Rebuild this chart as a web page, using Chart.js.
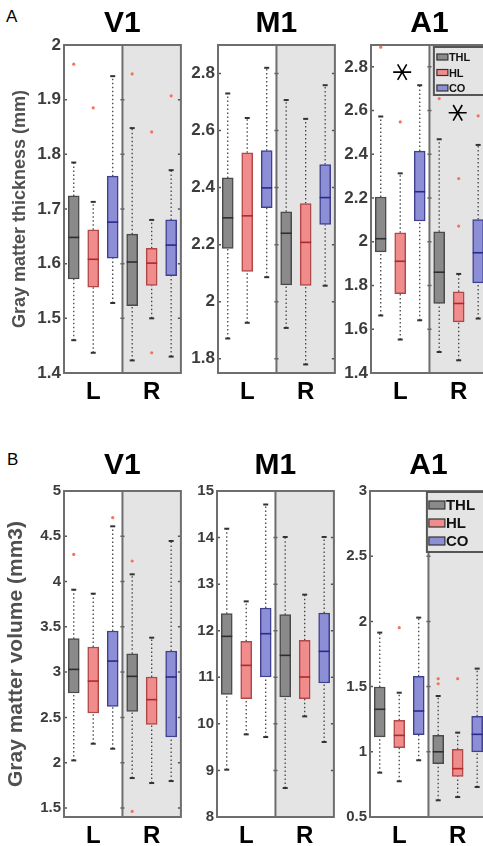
<!DOCTYPE html>
<html><head><meta charset="utf-8">
<script src="https://cdn.jsdelivr.net/npm/chart.js@4/dist/chart.umd.min.js"></script>
<style>
html,body{margin:0;padding:0;background:#fff;overflow:hidden;width:483px;height:846px;position:relative;}
canvas{position:absolute;}
.lab{position:absolute;font:17px "Liberation Sans",Arial,sans-serif;line-height:1;color:#000;}
</style></head><body>
<div class="lab" style="left:6px;top:8px">A</div>
<div class="lab" style="left:7px;top:451px">B</div>
<canvas id="aV1"></canvas><canvas id="aM1"></canvas><canvas id="aA1"></canvas>
<canvas id="bV1"></canvas><canvas id="bM1"></canvas><canvas id="bA1"></canvas>
<script>
// ---------- categories ----------
const groups = ['THL', 'HL', 'CO'];
const hemispheres = ['L', 'R'];
const xTickPos = [2, 5];
// ---------- box summaries: [lowWhisker, q1, median, q3, highWhisker] for THL-L, HL-L, CO-L, THL-R, HL-R, CO-R ----------
const thkV1 = [[1.46,1.572,1.648,1.724,1.785],[1.437,1.557,1.608,1.662,1.713],[1.528,1.61,1.676,1.76,1.943],
               [1.423,1.523,1.603,1.654,1.848],[1.5,1.56,1.601,1.628,1.68],[1.43,1.578,1.634,1.68,1.771]];
const thkV1Out = [[1.965],[1.885],[],[1.947],[1.841,1.437],[1.907]];
const thkM1 = [[1.871,2.187,2.294,2.434,2.73],[1.926,2.106,2.301,2.522,2.644],[2.086,2.33,2.399,2.53,2.82],
               [1.908,2.059,2.24,2.315,2.707],[1.78,2.057,2.208,2.344,2.641],[2.056,2.271,2.365,2.481,2.759]];
const thkM1Out = [[],[],[],[],[],[]];
const thkA1 = [[1.663,1.954,2.014,2.205,2.573],[1.553,1.763,1.911,2.041,2.313],[1.641,2.095,2.229,2.415,2.716],
               [1.496,1.718,1.861,2.046,2.469],[1.458,1.634,1.718,1.771,1.853],[1.649,1.812,1.95,2.102,2.443]];
const thkA1Out = [[2.89],[2.548],[],[2.655],[2.289,2.072],[2.576]];
const thkA1Stars = [[2.1,2.776],[4.95,2.59]];
const volV1 = [[2.025,2.769,3.03,3.369,3.91],[2.209,2.548,2.901,3.277,3.866],[2.154,2.622,3.122,3.454,4.61],
               [1.83,2.566,2.953,3.203,4.08],[1.775,2.423,2.696,2.946,3.38],[1.797,2.283,2.946,3.233,4.448]];
const volV1Out = [[4.30],[],[4.705],[4.227,1.462],[],[]];
const volM1 = [[9.016,10.633,11.879,12.366,14.19],[9.774,10.54,11.256,11.772,12.63],[9.717,11.006,11.936,12.487,14.71],
               [8.622,10.576,11.471,12.344,14.012],[10.161,10.54,11.006,11.793,12.774],[9.61,10.877,11.557,12.38,14.012]];
const volM1Out = [[],[],[],[],[],[]];
const volA1 = [[0.84,1.114,1.326,1.497,1.914],[0.774,1.032,1.126,1.241,1.453],[0.935,1.131,1.313,1.579,2.029],
               [0.628,0.909,1.0,1.126,1.428],[0.653,0.812,0.871,1.019,1.147],[0.73,1.0,1.134,1.272,1.638]];
const volA1Out = [[],[1.952],[],[1.561,1.522],[1.561],[]];
// ---------- tick labels ----------
const thkV1Ticks = [1.4,1.5,1.6,1.7,1.8,1.9,2];
const thkM1Ticks = [1.8,2,2.2,2.4,2.6,2.8];
const thkA1Ticks = [1.4,1.6,1.8,2,2.2,2.4,2.6,2.8];
const volV1Ticks = [1.5,2,2.5,3,3.5,4,4.5,5];
const volM1Ticks = [8,9,10,11,12,13,14,15];
const volA1Ticks = [0.5,1,1.5,2,2.5,3];

// ---------- styles ----------
const FONT = '"Liberation Sans", Arial, sans-serif';
const boxFill = ['#8a8a8a', '#f08c8c', '#8d8fd6'];
const boxLine = ['#4a4a4a', '#b04848', '#404090'];
const medLine = ['#2e2e2e', '#b02828', '#2a2a8a'];

const panelDeco = {
  id: 'panelDeco',
  beforeDatasetsDraw(chart) {
    const {ctx, chartArea: a, scales: {x}} = chart;
    const mid = x.getPixelForValue(3.5);
    ctx.save();
    ctx.fillStyle = '#e4e4e4';
    ctx.fillRect(mid, a.top, a.right - mid, a.bottom - a.top);
    ctx.restore();
  },
  afterDatasetsDraw(chart, args, o) {
    const {ctx, chartArea: a, scales: {x, y}} = chart;
    const mid = x.getPixelForValue(3.5);
    ctx.save();
    // tick marks
    ctx.strokeStyle = '#555'; ctx.lineWidth = 1.5;
    y.ticks.forEach(t => {
      const py = y.getPixelForValue(t.value);
      ctx.beginPath();
      ctx.moveTo(a.left, py); ctx.lineTo(a.left + 3, py);
      ctx.moveTo(mid - 2, py); ctx.lineTo(mid + 2, py);
      ctx.moveTo(a.right - 3, py); ctx.lineTo(a.right, py);
      ctx.stroke();
    });
    // frame + divider
    ctx.strokeStyle = '#6e6e6e'; ctx.lineWidth = 2;
    ctx.strokeRect(a.left, a.top, a.right - a.left, a.bottom - a.top);
    ctx.beginPath(); ctx.moveTo(mid, a.top); ctx.lineTo(mid, a.bottom); ctx.stroke();
    // significance markers
    (o.stars || []).forEach(s => {
      const cx = x.getPixelForValue(s[0]), cy = y.getPixelForValue(s[1]);
      const r = 9;
      ctx.strokeStyle = '#000'; ctx.lineWidth = 1.6;
      ctx.beginPath();
      for (const ang of [0, Math.PI / 3, -Math.PI / 3]) {
        ctx.moveTo(cx - r * Math.cos(ang), cy - r * Math.sin(ang));
        ctx.lineTo(cx + r * Math.cos(ang), cy + r * Math.sin(ang));
      }
      ctx.stroke();
    });
    // legend
    const L = o.legend;
    if (L) {
      const lx = a.right - L.w, ly = a.top + L.top;
      ctx.fillStyle = '#e4e4e4'; ctx.fillRect(lx, ly, L.w - 1, L.h);
      ctx.strokeStyle = '#555'; ctx.lineWidth = 2; ctx.strokeRect(lx, ly, L.w - 1, L.h);
      ctx.font = 'bold ' + L.font + 'px ' + FONT;
      ctx.textBaseline = 'middle'; ctx.textAlign = 'left';
      groups.forEach((g, i) => {
        const ry = ly + L.first + i * L.step;
        ctx.fillStyle = boxFill[i]; ctx.fillRect(lx + L.sx, ry - L.sh / 2, L.sw, L.sh);
        ctx.strokeStyle = '#333'; ctx.lineWidth = 1.2; ctx.strokeRect(lx + L.sx, ry - L.sh / 2, L.sw, L.sh);
        ctx.fillStyle = '#111'; ctx.fillText(g, lx + L.sx + L.sw + 1, ry + 1);
      });
    }
    ctx.restore();
  }
};

function makePanel(c) {
  const cv = document.getElementById(c.id);
  cv.width = c.w; cv.height = c.h;
  cv.style.left = c.left + 'px'; cv.style.top = c.top + 'px';
  const S = c.summ, xs = S.map((_, i) => i + 1);
  const gi = xs.map((_, i) => i % 3);
  const boxes = S.map((s, i) => ({x: xs[i], y: [s[1], s[3]]}));
  const meds = S.map((s, i) => ({x: xs[i], y: s[2]}));
  const whisk = [];
  S.forEach((s, i) => {
    whisk.push({x: xs[i], y: s[0]}, {x: xs[i], y: s[1]}, {x: xs[i], y: null},
               {x: xs[i], y: s[3]}, {x: xs[i], y: s[4]}, {x: xs[i], y: null});
  });
  const caps = S.flatMap((s, i) => [{x: xs[i], y: s[0]}, {x: xs[i], y: s[4]}]);
  const outl = c.out.flatMap((o, i) => o.map(v => ({x: xs[i], y: v})));
  new Chart(cv, {
    type: 'bar',
    data: {
      datasets: [
        {type: 'scatter', data: outl, pointStyle: 'circle', pointRadius: 1.6, backgroundColor: '#f5735a', borderWidth: 0},
        {type: 'scatter', data: meds, pointStyle: 'line', pointRadius: 5.5, borderWidth: 1.6,
         borderColor: gi.map(g => medLine[g])},
        {type: 'scatter', data: caps, pointStyle: 'line', pointRadius: 2.5, borderWidth: 2, borderColor: '#333'},
        {type: 'bar', data: boxes, barThickness: 11, grouped: false, borderSkipped: false, borderWidth: 1.5,
         backgroundColor: gi.map(g => boxFill[g]), borderColor: gi.map(g => boxLine[g])},
        {type: 'line', data: whisk, spanGaps: false, pointRadius: 0, borderColor: '#444', borderWidth: 1.3,
         borderDash: [1.5, 2.5], fill: false}
      ]
    },
    options: {
      responsive: false, animation: false, events: [],
      layout: {padding: {left: 0, right: 4, top: 0, bottom: 0}},
      plugins: {
        legend: {display: false}, tooltip: {enabled: false},
        title: {display: true, text: c.title, fullSize: false, color: '#000',
                font: {family: FONT, size: 30, weight: 'bold'}, padding: {top: 6, bottom: c.tpb}},
        panelDeco: {legend: c.legend, stars: c.stars}
      },
      scales: {
        x: {type: 'linear', min: 0.5, max: 6.5, offset: false,
            grid: {display: false, drawTicks: false, offset: false}, border: {display: false},
            afterBuildTicks: s => { s.ticks = xTickPos.map(v => ({value: v})); },
            afterFit: s => { s.height = c.xh; },
            ticks: {callback: (v, i) => hemispheres[i], autoSkip: false, maxRotation: 0,
                    font: {family: FONT, size: 24, weight: 'bold'}, color: '#000', padding: 5}},
        y: {min: c.min, max: c.max,
            grid: {display: false, drawTicks: false}, border: {display: false},
            afterBuildTicks: s => { s.ticks = c.ticks.map(v => ({value: v})); },
            afterFit: s => { s.width = c.yw; },
            ticks: {callback: v => String(v), font: {family: FONT, size: c.tf, weight: 'bold'},
                    color: '#3c3c3c', padding: 3},
            title: c.ytitle ? {display: true, text: c.ytitle, color: '#505050',
                               font: {family: FONT, size: c.ytf, weight: 'bold'}, padding: {top: c.ytp, bottom: 0}}
                            : {display: false}}
      }
    },
    plugins: [panelDeco]
  });
}

const legA = {w: 54, top: 2, h: 48, font: 11, first: 10, step: 15.5, sx: 3, sw: 11, sh: 6};
const legB = {w: 60, top: 1, h: 60, font: 15, first: 13, step: 18, sx: 2, sw: 16, sh: 8};

makePanel({id: 'aV1', left: 0, top: 0, w: 188, h: 413, yw: 64, xh: 40, tpb: 3, title: 'V1',
  summ: thkV1, out: thkV1Out, min: 1.4, max: 2.0, ticks: thkV1Ticks, tf: 17,
  ytitle: 'Gray matter thickness (mm)', ytf: 18, ytp: 9});
makePanel({id: 'aM1', left: 178, top: 0, w: 164, h: 413, yw: 40, xh: 40, tpb: 3, title: 'M1',
  summ: thkM1, out: thkM1Out, min: 1.75, max: 2.9, ticks: thkM1Ticks, tf: 17});
makePanel({id: 'aA1', left: 331, top: 0, w: 164, h: 413, yw: 40, xh: 40, tpb: 3, title: 'A1',
  summ: thkA1, out: thkA1Out, min: 1.4, max: 2.9, ticks: thkA1Ticks, tf: 17, legend: legA, stars: thkA1Stars});
makePanel({id: 'bV1', left: 0, top: 442, w: 188, h: 404, yw: 64, xh: 29, tpb: 7, title: 'V1',
  summ: volV1, out: volV1Out, min: 1.4, max: 5, ticks: volV1Ticks, tf: 15,
  ytitle: 'Gray matter volume (mm3)', ytf: 21, ytp: 4});
makePanel({id: 'bM1', left: 177, top: 442, w: 164, h: 404, yw: 40, xh: 29, tpb: 7, title: 'M1',
  summ: volM1, out: volM1Out, min: 8, max: 15, ticks: volM1Ticks, tf: 15});
makePanel({id: 'bA1', left: 330, top: 442, w: 164, h: 404, yw: 40, xh: 29, tpb: 7, title: 'A1',
  summ: volA1, out: volA1Out, min: 0.5, max: 3, ticks: volA1Ticks, tf: 15, legend: legB});
</script>
</body></html>
